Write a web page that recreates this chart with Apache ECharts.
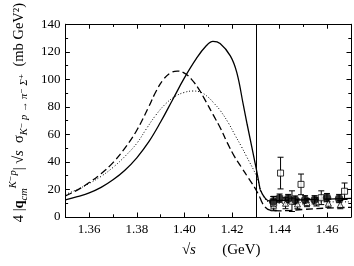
<!DOCTYPE html>
<html>
<head>
<meta charset="utf-8">
<script src="https://cdn.jsdelivr.net/npm/echarts@6/dist/echarts.min.js"></script>
<style>html,body{margin:0;padding:0;background:#fff}#c{width:354px;height:266px}</style>
</head>
<body>
<div id="c"></div>
<script>
// ---- data ----
const xMajorTicks = [1.36, 1.38, 1.40, 1.42, 1.44, 1.46];
const xMinorTicks = [1.37, 1.39, 1.41, 1.43, 1.45];
const yTicks = [0, 20, 40, 60, 80, 100, 120, 140];
const threshold = 1.4318;

const solidX = [1.35,1.355,1.36,1.365,1.37,1.375,1.38,1.385,1.39,1.395,1.40,1.405,1.409,1.412,1.415,1.4193,1.422,1.4248,1.4264,1.4302,1.4318,1.434,1.436,1.44,1.45,1.46,1.47];
const solidY = [12.5,14.8,17.5,21.5,27,34,43,54.5,69,85,101,115,124,127.5,126,117,105,81,67,35,20,13.5,11.5,12,12.5,13,13.5];

const dashedX = [1.35,1.355,1.36,1.365,1.37,1.375,1.38,1.385,1.388,1.391,1.394,1.397,1.400,1.403,1.406,1.409,1.412,1.415,1.418,1.421,1.424,1.427,1.430,1.4318,1.4335,1.436,1.44,1.45,1.46,1.47];
const dashedY = [15.3,19.5,25,31.5,39.5,50,63,80,91,99.5,104.5,106,104.5,100,93,84,74.5,65,54,44,36,28,20,14,8,5,4.5,5.5,6.5,7];

const dottedX = [1.35,1.355,1.36,1.365,1.37,1.375,1.38,1.384,1.388,1.392,1.396,1.400,1.4036,1.407,1.410,1.4125,1.415,1.4186,1.4211,1.424,1.4261,1.4302,1.4318,1.4335,1.436,1.44,1.45,1.46,1.47];
const dottedY = [16.4,20,24.4,29.5,36,44,53.5,64,74,82,87.5,90.5,91.5,90.5,87,82.5,77.5,68,60,51,44,30,21,14,10.5,10,10.5,11,11];

const circleX = [1.4373,1.4400,1.4436,1.4466,1.4507,1.4547,1.4599,1.4650];
const circleY = [11.3,13.7,13.4,12.3,12.5,12.5,14.1,13.4];
const circleErr = [3.5,3,3,3,3,3,3,3];

const squareX = [1.4375,1.4404,1.4452,1.4490,1.4575,1.4673];
const squareY = [10,31.9,11.5,23.7,14,18.7];
const squareErr = [5,11.5,7.5,7.5,5,6];

const triX = [1.4375,1.4425,1.4475,1.4515,1.4555,1.4605,1.4655];
const triY = [8.5,10,9.5,10.5,11,10,9];
const triErr = [4,4,3.5,3,3,3,3];

// ---- build ----
const zip2 = (a,b) => a.map((v,i)=>[v,b[i]]);
const zip3 = (a,b,c) => a.map((v,i)=>[v,b[i],c[i]]);
const below = (xs, ys) => zip2(xs, ys).filter(p => p[0] <= threshold + 1e-9);
const above = (xs, ys) => zip2(xs, ys).filter(p => p[0] >= threshold - 1e-9);
const FONT = '"Liberation Serif", "DejaVu Serif", serif';

function errBars(data) {
  return {
    type: 'custom', xAxisIndex: 0, yAxisIndex: 0, z: 5, silent: true,
    data: data,
    renderItem: function (params, api) {
      const x = api.value(0), y = api.value(1), e = api.value(2);
      const t = api.coord([x, y + e]), b = api.coord([x, y - e]);
      const w = 3;
      const st = { stroke: '#000', lineWidth: 1 };
      return { type: 'group', children: [
        { type: 'line', shape: { x1: t[0], y1: t[1], x2: b[0], y2: b[1] }, style: st },
        { type: 'line', shape: { x1: t[0]-w, y1: t[1], x2: t[0]+w, y2: t[1] }, style: st },
        { type: 'line', shape: { x1: b[0]-w, y1: b[1], x2: b[0]+w, y2: b[1] }, style: st }
      ]};
    }
  };
}

function curve(data, lineStyle, extra) {
  return Object.assign({ type: 'line', xAxisIndex: 0, yAxisIndex: 0, data: data, showSymbol: false,
    smooth: 0.4, lineStyle: lineStyle, z: 2 }, extra || {});
}

const xBase = { type: 'value', min: 1.35, max: 1.47, gridIndex: 0, splitLine: { show: false } };
const yBase = { type: 'value', min: 0, max: 140, interval: 20, gridIndex: 0, splitLine: { show: false } };

const solidStyle = { color: '#000', width: 1.3, type: 'solid' };
const dashedStyle = { color: '#000', width: 1.3, type: [7, 3.5] };
const dottedStyle = { color: '#000', width: 1, type: [1, 2] };

const option = {
  animation: false,
  backgroundColor: '#fff',
  grid: { left: 57, right: 3, top: 12.5, bottom: 49, containLabel: false },
  xAxis: [
    Object.assign({}, xBase, {
      position: 'bottom',
      axisLine: { show: true, lineStyle: { color: '#000', width: 1 } },
      axisTick: { show: true, inside: true, length: 4.5, customValues: xMajorTicks, lineStyle: { color: '#000' } },
      axisLabel: { show: true, customValues: xMajorTicks, margin: 6, color: '#000', fontFamily: FONT, fontSize: 13,
        formatter: v => v.toFixed(2) },
      name: '{r|√}{i|s}{r|       (GeV)}',
      nameLocation: 'middle', nameGap: 26,
      nameTextStyle: { color: '#000', fontFamily: FONT, fontSize: 15, padding: [0, 0, 0, 26],
        rich: { r: { fontFamily: FONT, fontSize: 15, color: '#000' },
                i: { fontFamily: FONT, fontSize: 15, fontStyle: 'italic', color: '#000' } } }
    }),
    Object.assign({}, xBase, {
      position: 'bottom',
      axisLine: { show: false },
      axisTick: { show: true, inside: true, length: 2.7, customValues: xMinorTicks, lineStyle: { color: '#000' } },
      axisLabel: { show: false }
    }),
    Object.assign({}, xBase, {
      position: 'top',
      axisLine: { show: true, lineStyle: { color: '#000', width: 1 } },
      axisTick: { show: true, inside: true, length: 4.5, customValues: xMajorTicks, lineStyle: { color: '#000' } },
      axisLabel: { show: false }
    }),
    Object.assign({}, xBase, {
      position: 'top',
      axisLine: { show: false },
      axisTick: { show: true, inside: true, length: 2.7, customValues: xMinorTicks, lineStyle: { color: '#000' } },
      axisLabel: { show: false }
    })
  ],
  yAxis: [
    Object.assign({}, yBase, {
      position: 'left',
      axisLine: { show: true, lineStyle: { color: '#000', width: 1 } },
      axisTick: { show: true, inside: true, length: 4.5, lineStyle: { color: '#000' } },
      minorTick: { show: true, splitNumber: 2, length: 2.7, lineStyle: { color: '#000' } },
      axisLabel: { show: true, margin: 5, color: '#000', fontFamily: FONT, fontSize: 13,
        customValues: yTicks },
      name: '4 |{b|q}{sub|cm}{sup|K⁻p}| √{i|s}  σ{sub|K⁻ p → π⁻ Σ⁺}  (mb GeV²)',
      nameLocation: 'middle', nameGap: 32, nameRotate: 90,
      nameTextStyle: { color: '#000', fontFamily: FONT, fontSize: 14.5, lineHeight: 22, padding: [0, 0, 0, 16],
        rich: {
          b: { fontFamily: FONT, fontSize: 14.5, fontWeight: 'bold', color: '#000' },
          i: { fontFamily: FONT, fontSize: 14.5, fontStyle: 'italic', color: '#000' },
          sub: { fontFamily: FONT, fontSize: 10.5, fontStyle: 'italic', verticalAlign: 'bottom', lineHeight: 11, color: '#000' },
          sup: { fontFamily: FONT, fontSize: 10.5, fontStyle: 'italic', verticalAlign: 'top', lineHeight: 11, color: '#000' }
        } }
    }),
    Object.assign({}, yBase, {
      position: 'right',
      axisLine: { show: true, lineStyle: { color: '#000', width: 1 } },
      axisTick: { show: true, inside: true, length: 4.5, lineStyle: { color: '#000' } },
      minorTick: { show: true, splitNumber: 2, length: 2.7, lineStyle: { color: '#000' } },
      axisLabel: { show: false }
    })
  ],
  series: [
    curve(below(solidX, solidY), solidStyle, {
      markLine: { silent: true, symbol: 'none', label: { show: false },
        lineStyle: { color: '#000', width: 1, type: 'solid' }, data: [{ xAxis: threshold }] } }),
    curve(above(solidX, solidY), solidStyle),
    curve(below(dashedX, dashedY), dashedStyle),
    curve(above(dashedX, dashedY), dashedStyle),
    curve(below(dottedX, dottedY), dottedStyle),
    curve(above(dottedX, dottedY), dottedStyle),
    errBars(zip3(triX, triY, triErr)),
    errBars(zip3(squareX, squareY, squareErr)),
    errBars(zip3(circleX, circleY, circleErr)),
    { type: 'scatter', xAxisIndex: 0, yAxisIndex: 0, data: zip2(triX, triY), symbol: 'triangle', symbolSize: 6,
      itemStyle: { color: '#fff', borderColor: '#000', borderWidth: 1 }, z: 6 },
    { type: 'scatter', xAxisIndex: 0, yAxisIndex: 0, data: zip2(squareX, squareY), symbol: 'rect', symbolSize: 6,
      itemStyle: { color: '#fff', borderColor: '#000', borderWidth: 1 }, z: 6 },
    { type: 'scatter', xAxisIndex: 0, yAxisIndex: 0, data: zip2(circleX, circleY), symbol: 'circle', symbolSize: 8.5,
      itemStyle: { color: '#000' }, z: 7 }
  ]
};
const chart = echarts.init(document.getElementById('c'), null, { renderer: 'canvas' });
chart.setOption(option);
</script>
</body>
</html>
